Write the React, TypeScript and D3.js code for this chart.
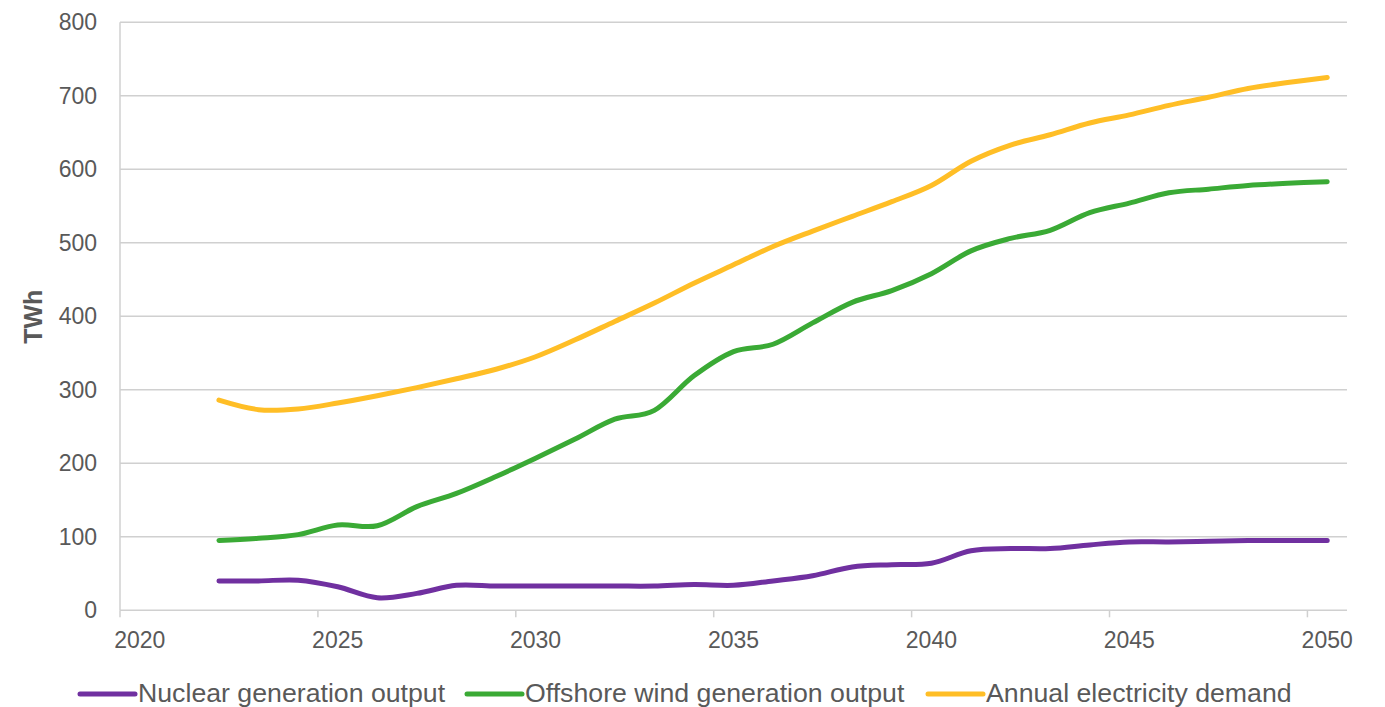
import React from "react";
import * as d3 from "d3";

const categories: number[] = d3.range(2020, 2051);
const years: number[] = d3.range(2022, 2051);
const nuclear: number[] = [40, 40, 41, 32, 17, 23, 34, 33, 33, 33, 33, 33, 35, 34, 40, 47, 59, 62, 64, 81, 84, 84, 89, 93, 93, 94, 95, 95, 95];
const offshore: number[] = [95, 98, 103, 116, 115, 141, 159, 182, 207, 233, 260, 272, 319, 352, 362, 391, 419, 435, 458, 489, 506, 517, 541, 554, 568, 573, 578, 581, 583];
const demand: number[] = [286, 273, 274, 282, 292, 303, 315, 328, 345, 368, 393, 418, 445, 470, 495, 516, 536, 556, 578, 611, 633, 647, 663, 674, 687, 698, 710, 718, 725];
const yTicks: number[] = [0, 100, 200, 300, 400, 500, 600, 700, 800];
const xTickLabels: number[] = [2020, 2025, 2030, 2035, 2040, 2045, 2050];

const seriesNames = ["Nuclear generation output", "Offshore wind generation output", "Annual electricity demand"];
const seriesColors = ["#7030A0", "#3AAA35", "#FFBE26"];
const seriesValues = [nuclear, offshore, demand];

const W = 1385;
const H = 707;
const left = 120;
const right = 1347;
const top = 22.3;
const bottom = 610.3;

export default function App() {
  const x = d3.scaleBand<number>().domain(categories).range([left, right]).padding(0);
  const y = d3.scaleLinear().domain([0, 800]).range([bottom, top]);
  const cx = (yr: number) => (x(yr) as number) + x.bandwidth() / 2;
  const line = d3
    .line<number>()
    .x((_, i) => cx(years[i]))
    .y((v) => y(v))
    .curve(d3.curveCatmullRom.alpha(0));

  const textColor = "#595959";
  const gridColor = "#D0D0D0";
  const font = "'Liberation Sans', Arial, sans-serif";

  const legendX = [80, 467, 928];

  return (
    <svg width={W} height={H} style={{ position: "absolute", left: 0, top: 0, background: "#fff" }} fontFamily={font}>
      {yTicks.map((t) => (
        <g key={t}>
          {t > 0 && <line x1={left} x2={right} y1={y(t)} y2={y(t)} stroke={gridColor} strokeWidth={1.5} />}
          <text x={97} y={y(t)} dy="0.35em" textAnchor="end" fontSize={23} fill={textColor}>
            {t}
          </text>
        </g>
      ))}
      <line x1={left} x2={left} y1={top} y2={bottom} stroke={gridColor} strokeWidth={1.5} />
      <line x1={left} x2={right} y1={bottom} y2={bottom} stroke={gridColor} strokeWidth={1.5} />
      {xTickLabels.map((t) => (
        <g key={t}>
          <line x1={x(t) as number} x2={x(t) as number} y1={bottom} y2={bottom + 7} stroke={gridColor} strokeWidth={1.5} />
          <text x={cx(t)} y={648} textAnchor="middle" fontSize={23} fill={textColor}>
            {t}
          </text>
        </g>
      ))}
      <text
        transform={`translate(42,316.7) rotate(-90)`}
        textAnchor="middle"
        fontSize={25}
        fontWeight="bold"
        fill={textColor}
      >
        TWh
      </text>
      {seriesValues.map((vals, i) => (
        <path
          key={i}
          d={line(vals) || ""}
          fill="none"
          stroke={seriesColors[i]}
          strokeWidth={5}
          strokeLinecap="round"
          strokeLinejoin="round"
        />
      ))}
      {seriesNames.map((name, i) => (
        <g key={name}>
          <line
            x1={legendX[i]}
            x2={legendX[i] + 55}
            y1={694}
            y2={694}
            stroke={seriesColors[i]}
            strokeWidth={5}
            strokeLinecap="round"
          />
          <text x={legendX[i] + 58} y={701.5} fontSize={26.7} fill={textColor}>
            {name}
          </text>
        </g>
      ))}
    </svg>
  );
}
